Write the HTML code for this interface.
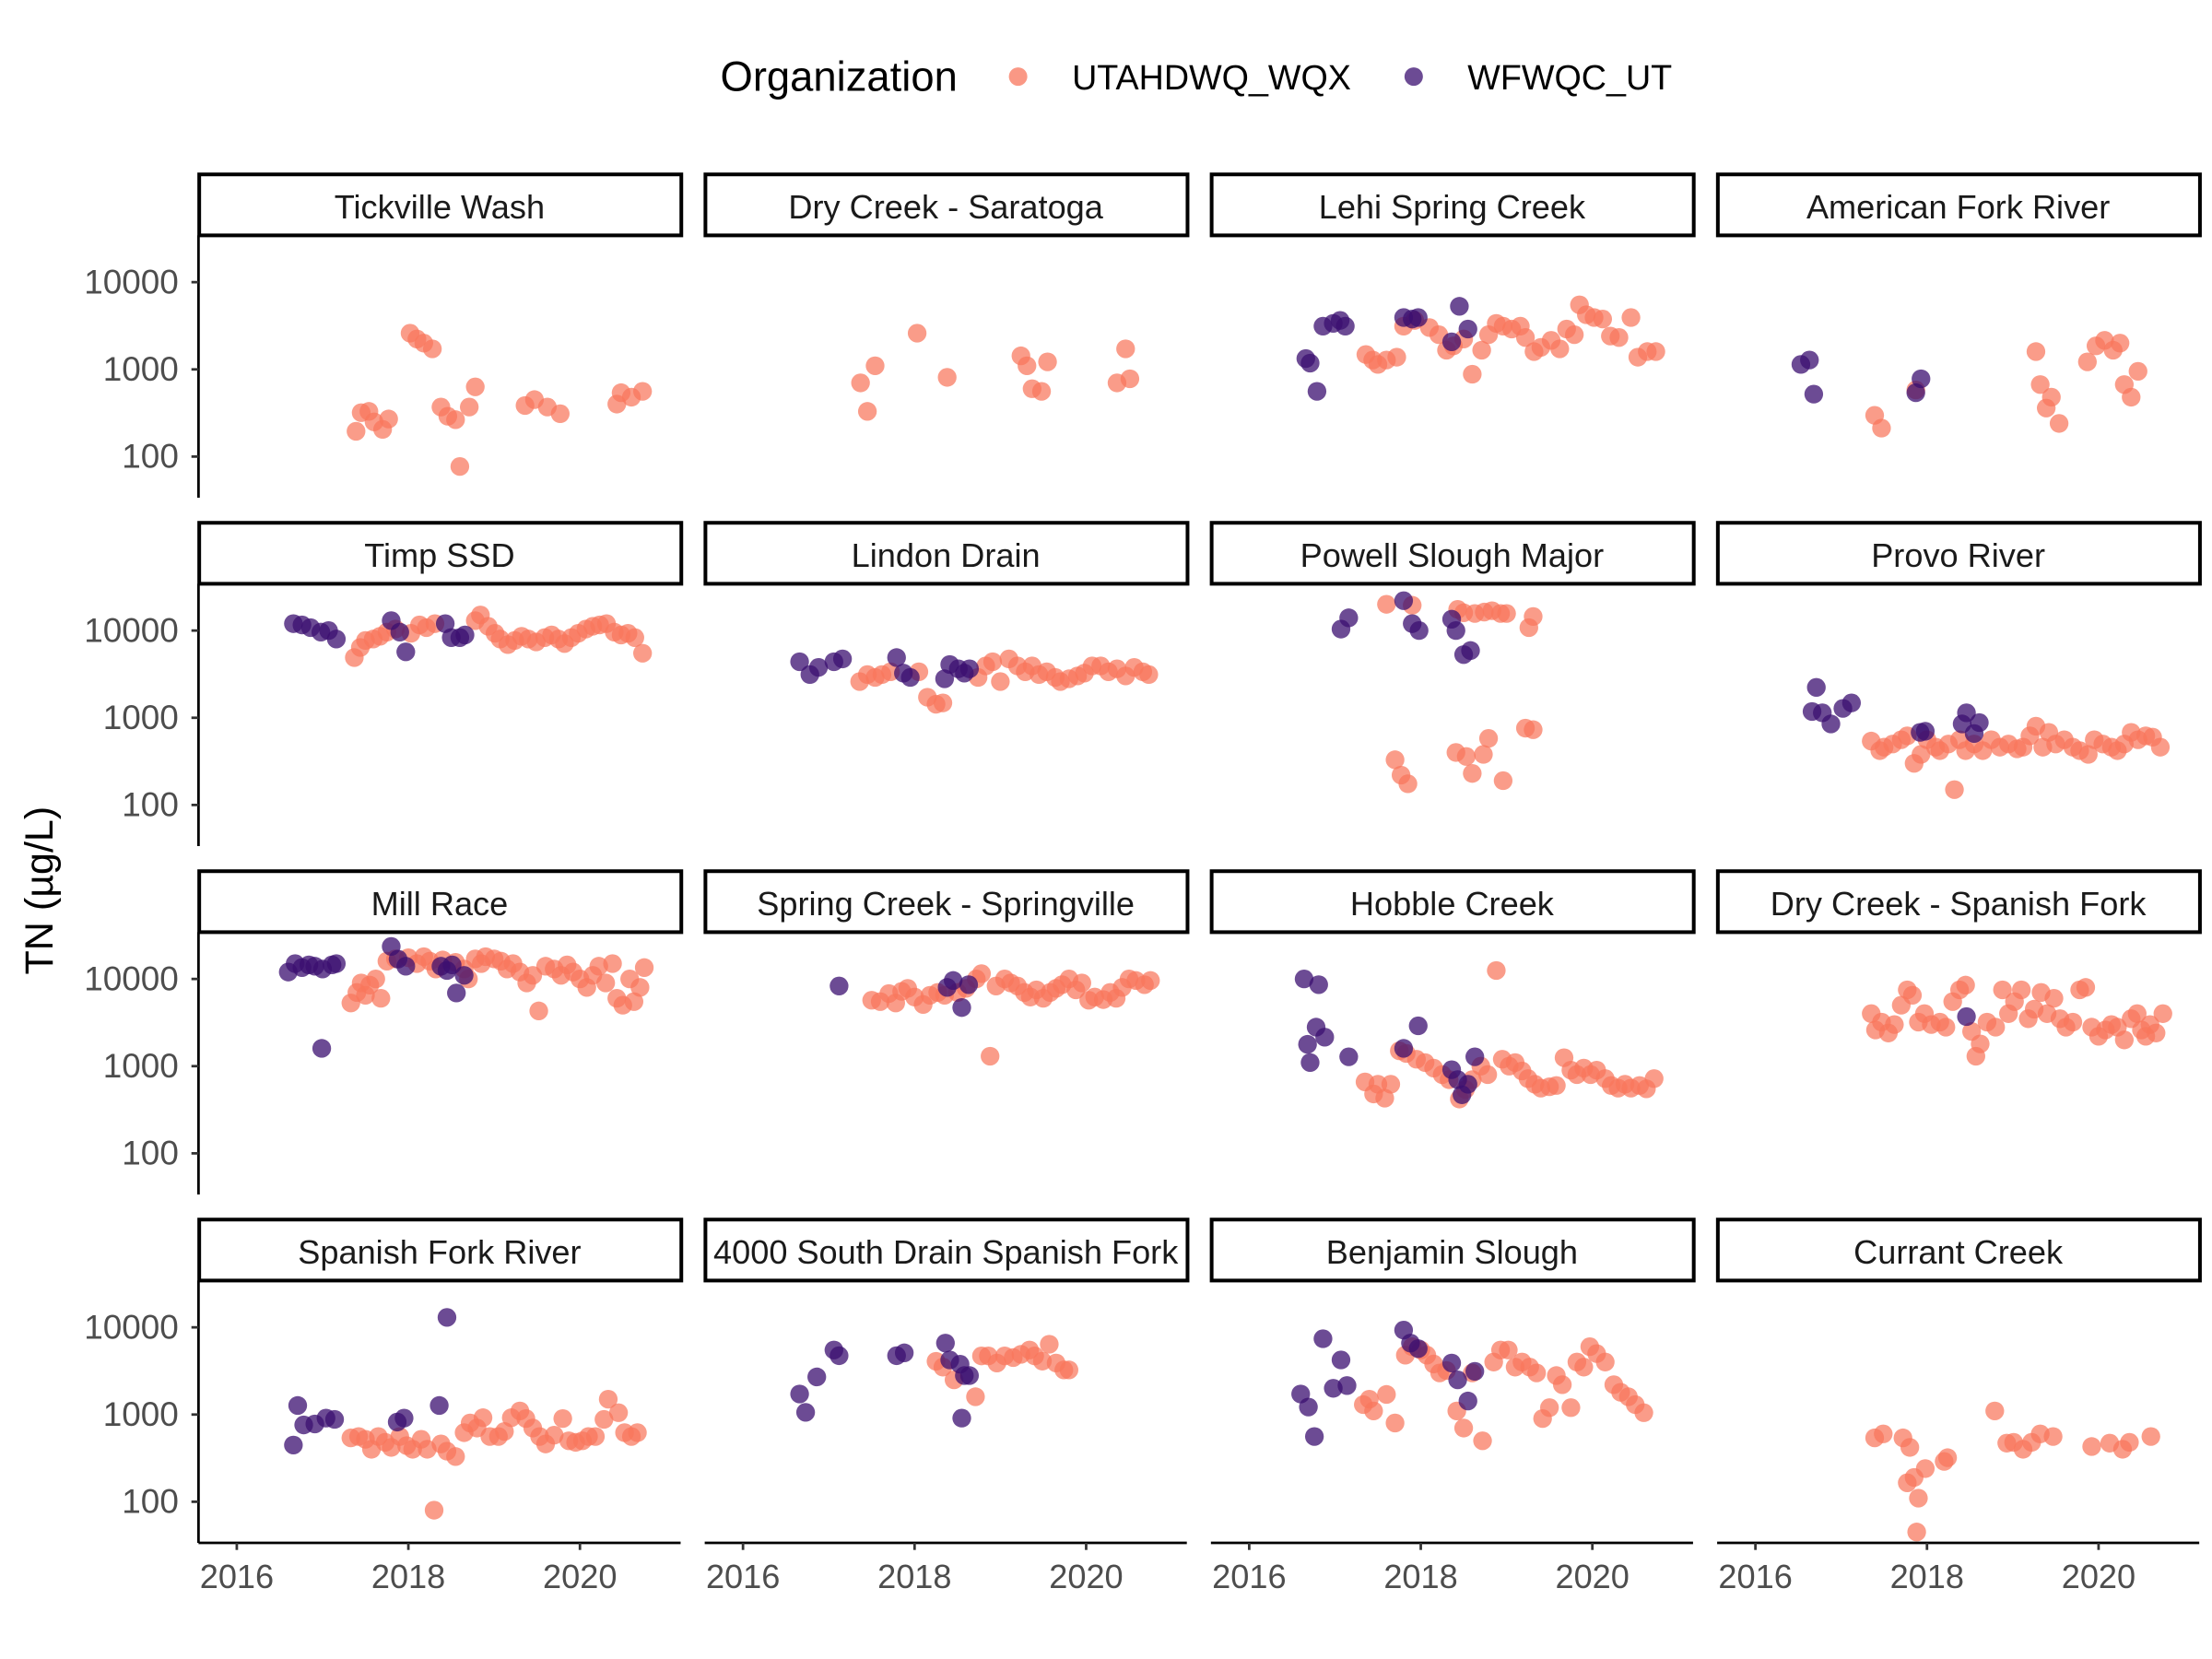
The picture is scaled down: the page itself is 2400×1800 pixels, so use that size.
<!DOCTYPE html>
<html><head><meta charset="utf-8"><style>
html,body{margin:0;padding:0;background:#fff;}
svg{display:block;font-family:"Liberation Sans",Arial,sans-serif;}
</style></head><body>
<svg id="chart" width="2400" height="1800" viewBox="0 0 1560 1170" xmlns="http://www.w3.org/2000/svg">
<g>
<text x="508" y="64" font-size="29.5" fill="#000">Organization</text>
<circle cx="718" cy="54" r="6.5" fill="#F8765C" fill-opacity="0.75"/>
<text x="756" y="63" font-size="24.5" fill="#000">UTAHDWQ_WQX</text>
<circle cx="997" cy="54" r="6.5" fill="#3B0F70" fill-opacity="0.75"/>
<text x="1035" y="63" font-size="24.5" fill="#000">WFWQC_UT</text>
</g>
<text transform="translate(37,628) rotate(-90)" text-anchor="middle" font-size="28" fill="#000">TN (µg/L)</text>
<g id="panels"></g>
</svg>
<script>
const panelNames = ["Tickville Wash","Dry Creek - Saratoga","Lehi Spring Creek","American Fork River","Timp SSD","Lindon Drain","Powell Slough Major","Provo River","Mill Race","Spring Creek - Springville","Hobble Creek","Dry Creek - Spanish Fork","Spanish Fork River","4000 South Drain Spanish Fork","Benjamin Slough","Currant Creek"];
const xTicks = [2016, 2018, 2020];
const yTicks = [100, 1000, 10000];
const utahYears = [
[2017.39,2017.45,2017.54,2017.6,2017.7,2017.77,2018.02,2018.1,2018.18,2018.28,2018.38,2018.46,2018.55,2018.6,2018.71,2018.78,2019.36,2019.47,2019.62,2019.77,2020.43,2020.48,2020.6,2020.73],
[2017.37,2017.45,2017.54,2018.03,2018.38,2019.24,2019.31,2019.37,2019.48,2019.55,2020.36,2020.46,2020.51],
[2017.36,2017.44,2017.5,2017.6,2017.72,2017.8,2017.93,2018.1,2018.21,2018.3,2018.38,2018.5,2018.6,2018.71,2018.79,2018.88,2018.96,2019.06,2019.16,2019.22,2019.32,2019.4,2019.52,2019.62,2019.7,2019.79,2019.85,2019.93,2020.02,2020.12,2020.21,2020.31,2020.45,2020.53,2020.64,2020.74],
[2017.39,2017.47,2017.87,2019.27,2019.32,2019.39,2019.45,2019.54,2019.87,2019.97,2020.07,2020.17,2020.25,2020.3,2020.38,2020.46],
[2017.37,2017.44,2017.5,2017.59,2017.67,2017.75,2017.85,2018.03,2018.13,2018.21,2018.31,2018.78,2018.84,2018.93,2019.01,2019.07,2019.16,2019.24,2019.32,2019.4,2019.49,2019.59,2019.67,2019.75,2019.82,2019.9,2019.98,2020.07,2020.15,2020.23,2020.31,2020.4,2020.48,2020.56,2020.64,2020.73],
[2017.36,2017.45,2017.54,2017.62,2017.72,2018.05,2018.15,2018.25,2018.33,2018.74,2018.83,2018.91,2019.0,2019.1,2019.2,2019.29,2019.37,2019.45,2019.54,2019.64,2019.7,2019.8,2019.9,2019.98,2020.07,2020.17,2020.26,2020.36,2020.46,2020.56,2020.66,2020.73],
[2017.6,2017.7,2017.77,2017.85,2017.9,2018.43,2018.5,2018.41,2018.53,2018.6,2018.73,2018.79,2018.63,2018.74,2018.83,2018.93,2019.0,2018.96,2019.26,2019.31,2019.22,2019.31],
[2017.35,2017.45,2017.5,2017.6,2017.7,2017.77,2017.85,2017.93,2018.0,2018.1,2018.15,2018.25,2018.32,2018.38,2018.45,2018.55,2018.65,2018.75,2018.85,2018.95,2019.05,2019.12,2019.2,2019.27,2019.35,2019.42,2019.5,2019.6,2019.7,2019.78,2019.88,2019.95,2020.05,2020.15,2020.22,2020.3,2020.38,2020.46,2020.55,2020.63,2020.72],
[2017.33,2017.4,2017.45,2017.5,2017.55,2017.62,2017.68,2017.75,2017.85,2018.0,2018.1,2018.18,2018.25,2018.32,2018.4,2018.55,2018.65,2018.7,2018.78,2018.85,2018.9,2019.0,2019.08,2019.15,2019.22,2019.3,2019.38,2019.45,2019.52,2019.6,2019.7,2019.78,2019.85,2019.92,2020.0,2020.08,2020.15,2020.22,2020.3,2020.38,2020.43,2020.5,2020.58,2020.63,2020.7,2020.75],
[2017.5,2017.6,2017.7,2017.78,2017.85,2017.92,2018.0,2018.1,2018.18,2018.27,2018.35,2018.5,2018.6,2018.72,2018.78,2018.88,2018.95,2019.05,2019.12,2019.2,2019.28,2019.35,2019.42,2019.5,2019.58,2019.65,2019.72,2019.8,2019.88,2019.95,2020.03,2020.1,2020.2,2020.28,2020.35,2020.42,2020.5,2020.58,2020.68,2020.75],
[2018.88,2017.35,2017.45,2017.5,2017.58,2017.65,2017.75,2017.83,2017.95,2018.05,2018.15,2018.25,2018.33,2018.45,2018.52,2018.6,2018.7,2018.78,2018.95,2019.03,2019.1,2019.18,2019.25,2019.33,2019.4,2019.5,2019.58,2019.67,2019.75,2019.82,2019.9,2019.98,2020.05,2020.15,2020.22,2020.3,2020.38,2020.45,2020.55,2020.63,2020.72],
[2017.35,2017.4,2017.47,2017.55,2017.62,2017.7,2017.77,2017.83,2017.9,2017.97,2018.05,2018.15,2018.22,2018.3,2018.38,2018.45,2018.52,2018.57,2018.62,2018.7,2018.8,2018.88,2018.95,2019.02,2019.1,2019.18,2019.25,2019.33,2019.4,2019.48,2019.55,2019.62,2019.7,2019.78,2019.85,2019.92,2020.0,2020.08,2020.15,2020.22,2020.3,2020.38,2020.45,2020.5,2020.55,2020.6,2020.67,2020.75],
[2018.3,2017.33,2017.42,2017.5,2017.57,2017.65,2017.73,2017.8,2017.9,2017.98,2018.05,2018.15,2018.22,2018.38,2018.45,2018.55,2018.65,2018.72,2018.8,2018.87,2018.95,2019.05,2019.12,2019.2,2019.3,2019.37,2019.45,2019.53,2019.6,2019.7,2019.8,2019.87,2019.95,2020.03,2020.1,2020.18,2020.28,2020.33,2020.45,2020.52,2020.6,2020.67],
[2018.25,2018.33,2018.46,2018.71,2018.78,2018.86,2018.96,2019.05,2019.15,2019.24,2019.34,2019.4,2019.49,2019.57,2019.65,2019.74,2019.8],
[2017.33,2017.4,2017.45,2017.6,2017.7,2017.82,2017.9,2018.0,2018.07,2018.15,2018.22,2018.3,2018.42,2018.5,2018.6,2018.72,2018.85,2018.93,2019.02,2019.1,2019.18,2019.27,2019.35,2019.42,2019.5,2019.58,2019.65,2019.75,2019.82,2019.9,2019.97,2020.05,2020.15,2020.25,2020.33,2020.42,2020.5,2020.6],
[2017.39,2017.49,2017.72,2017.8,2017.77,2017.85,2017.9,2017.88,2017.98,2018.2,2018.24,2018.79,2018.93,2019.01,2019.12,2019.22,2019.32,2019.47,2019.92,2020.13,2020.28,2020.36,2020.61]
];
const utahValues = [
[195,319,330,250,205,270,2600,2230,2000,1720,370,290,265,77,370,630,385,450,370,310,400,540,480,560],
[700,330,1100,2600,810,1430,1100,600,560,1220,700,1720,780],
[1480,1280,1140,1280,1380,3130,3640,3020,2500,1660,1860,2230,880,1660,2500,3370,3130,2900,3130,2320,1600,1790,2150,1720,2900,2500,5500,4230,3930,3780,2410,2320,3930,1380,1600,1600],
[297,212,580,1600,670,360,480,240,1220,1860,2150,1660,2000,670,480,950],
[4900,6400,7700,8000,8600,9600,10400,9300,11600,10800,12000,13000,15100,11200,9300,8000,6900,7700,8600,8000,7400,8300,8900,8000,7100,8300,9300,10400,11200,11600,12000,9600,8900,9300,8300,5500],
[2600,3130,2900,3130,3370,3370,1720,1430,1480,2900,3930,4390,2600,4730,3930,3370,3930,3130,3370,2900,2600,2800,3020,3250,3930,3930,3370,3640,3020,3780,3370,3130],
[20000,330,220,175,19500,17500,16000,400,360,230,380,580,15700,16300,16900,15700,15700,190,10800,14500,760,730],
[540,420,460,500,560,620,300,380,560,460,420,500,150,560,420,500,420,560,460,500,440,460,620,800,460,680,500,560,460,420,380,560,500,460,420,500,680,560,620,600,460],
[5300,7000,9000,6500,8500,10000,6000,16000,17000,17500,15000,18000,16000,13000,16500,15500,13000,10000,17000,15000,18000,17000,16000,13000,15000,12000,9000,11000,4300,14000,13000,11000,14500,12000,10000,8000,11000,14000,9000,15000,6000,5000,10000,5500,8000,13500],
[5700,5500,6800,5300,7200,7800,6200,5100,6500,7000,6500,7000,7800,10000,11500,1300,8300,10000,9000,8300,7000,6200,7500,6000,7000,7800,8600,10000,7500,9000,5700,6200,5800,7000,6000,8000,10000,9600,8600,9600],
[12500,660,480,620,430,620,1500,1400,1200,1100,950,800,700,420,540,700,1000,800,1200,1000,1100,880,720,620,560,580,600,1250,900,800,950,800,900,720,600,560,620,560,600,550,720],
[4000,2600,3200,2400,3000,5000,7500,6500,3200,4000,3000,3200,2800,5500,7500,8500,2500,1300,1800,3200,2800,7500,4000,5500,7500,3500,4500,7000,4000,6000,3500,2800,3200,7500,8000,2800,2200,2600,3000,2800,2000,3500,4000,2600,2200,3000,2400,4000],
[80,540,560,520,400,560,480,420,560,440,400,520,400,460,380,330,620,800,700,920,560,560,640,920,1100,900,700,560,460,580,900,500,480,500,560,560,880,1500,1050,620,560,620],
[4080,3500,2500,1600,4700,4700,3900,4700,4500,4900,5500,4700,4100,6400,3900,3250,3250],
[1300,1500,1100,1700,800,4800,6000,5500,4800,3800,3000,3200,1100,700,3000,500,4000,5500,5500,3500,4000,3500,3000,900,1200,2800,2200,1200,4000,3500,6000,5000,4000,2200,1800,1600,1300,1050],
[540,600,540,420,165,190,110,45,240,290,320,1100,470,480,400,480,600,560,430,470,400,480,560]
];
const wfYears = [
[],
[],
[2016.66,2016.71,2016.79,2016.86,2016.98,2017.06,2017.12,2017.8,2017.9,2017.97,2018.36,2018.45,2018.55],
[2016.53,2016.63,2016.68,2017.87,2017.93],
[2016.66,2016.76,2016.86,2016.98,2017.07,2017.16,2017.8,2017.9,2017.97,2018.43,2018.5,2018.6,2018.66],
[2016.66,2016.78,2016.88,2017.06,2017.16,2017.79,2017.87,2017.95,2018.35,2018.41,2018.51,2018.58,2018.64],
[2017.07,2017.16,2017.8,2017.9,2017.98,2018.36,2018.41,2018.5,2018.58],
[2016.71,2016.66,2016.78,2016.88,2017.02,2017.12,2017.92,2017.98,2018.41,2018.46,2018.55,2018.61],
[2016.6,2016.68,2016.76,2016.84,2016.91,2017.0,2016.99,2017.11,2017.16,2017.8,2017.88,2017.97,2018.38,2018.45,2018.51,2018.56,2018.65],
[2017.12,2018.38,2018.45,2018.55,2018.63],
[2016.64,2016.81,2016.68,2016.78,2016.88,2016.71,2017.16,2017.8,2017.97,2018.36,2018.43,2018.48,2018.55,2018.63],
[2018.46],
[2016.66,2016.71,2016.78,2016.91,2017.04,2017.14,2017.87,2017.95,2018.36,2018.45],
[2016.66,2016.73,2016.86,2017.06,2017.12,2017.79,2017.88,2018.36,2018.41,2018.53,2018.58,2018.64,2018.55],
[2016.6,2016.69,2016.76,2016.86,2016.98,2017.07,2017.14,2017.8,2017.88,2017.97,2018.36,2018.43,2018.55,2018.63],
[]
];
const wfValues = [
[],
[],
[1330,1180,560,3130,3370,3640,3130,3930,3780,3930,2070,5290,2900],
[1140,1280,520,540,780],
[12000,11600,10800,9600,10000,8000,13000,9600,5700,12000,8300,8300,8900],
[4390,3130,3780,4390,4730,4900,3250,2900,2800,4080,3640,3250,3640],
[10400,14000,22000,12000,10000,13500,10000,5300,5900],
[2230,1180,1140,850,1280,1480,680,700,850,1140,660,880],
[12000,15000,13500,14500,14000,13000,1600,14500,15000,23600,16900,14000,14000,12500,14500,6900,11000],
[8300,8000,9600,4700,8600],
[10000,8600,1780,2800,2150,1100,1280,1600,2900,910,700,470,620,1280],
[3700],
[447,1270,760,780,910,880,820,910,1270,13000],
[1720,1060,2700,5500,4730,4730,5100,6600,4230,3780,2800,2800,910],
[1720,1220,560,7400,2000,4230,2150,9300,6600,5700,3900,2500,1430,3130],
[]
];

const NS = "http://www.w3.org/2000/svg";
const root = document.getElementById("panels");
const PW = 340, COLSTEP = 357, ROWSTEP = 245.7;
function mk(tag, attrs, parent) {
  const e = document.createElementNS(NS, tag);
  for (const k in attrs) e.setAttribute(k, attrs[k]);
  parent.appendChild(e);
  return e;
}
function xScale(c, yr) { return 140 + c * COLSTEP + 27 + (yr - 2016) * 60.5; }
function yScale(r, v) { return 199 + r * ROWSTEP + (4 - Math.log10(v)) * 61.5; }

panelNames.forEach((name, i) => {
  const r = Math.floor(i / 4), c = i % 4;
  const left = 140 + c * COLSTEP;
  const stripTop = 123 + r * ROWSTEP;
  const panelTop = stripTop + 43;
  const panelBottom = panelTop + 185;
  const g = mk("g", {}, root);
  
  
  const strip = mk("rect", {x: left + 0.5, y: stripTop, width: PW, height: 43, fill: "#fff", stroke: "#000", "stroke-width": 2.6}, g);
  
  
  const st = mk("text", {x: left + PW / 2, y: stripTop + 31, "text-anchor": "middle", "font-size": 23.5, fill: "#1a1a1a"}, g);
  
  
  st.textContent = name;

  if (c === 0) {
    const ax = mk("line", {x1: left, x2: left, y1: panelTop, y2: panelBottom, stroke: "#000", "stroke-width": 1.8}, g);
    
    
    yTicks.forEach(t => {
      const y = yScale(r, t);
      const tk = mk("line", {x1: left - 5, x2: left, y1: y, y2: y, stroke: "#333", "stroke-width": 1.8}, g);
      
      
      const tl = mk("text", {x: left - 14, y: y + 8, "text-anchor": "end", "font-size": 24, fill: "#4d4d4d"}, g);
      
      
      tl.textContent = t;
    });
  }
  if (r === 3) {
    const ax = mk("line", {x1: left, x2: left + PW, y1: panelBottom, y2: panelBottom, stroke: "#000", "stroke-width": 1.8}, g);
    
    
    xTicks.forEach(t => {
      const x = xScale(c, t);
      const tk = mk("line", {x1: x, x2: x, y1: panelBottom, y2: panelBottom + 5, stroke: "#333", "stroke-width": 1.8}, g);
      
      
      const tl = mk("text", {x: x, y: panelBottom + 32, "text-anchor": "middle", "font-size": 23.5, fill: "#4d4d4d"}, g);
      
      
      tl.textContent = t;
    });
  }
  utahYears[i].forEach((yr, j) => {
    const p = mk("circle", {cx: xScale(c, yr), cy: yScale(r, utahValues[i][j]), r: 6.6, fill: "#F8765C", "fill-opacity": 0.72}, g);
    
    
  });
  wfYears[i].forEach((yr, j) => {
    const p = mk("circle", {cx: xScale(c, yr), cy: yScale(r, wfValues[i][j]), r: 6.6, fill: "#3B0F70", "fill-opacity": 0.75}, g);
    
    
  });
});
</script>
</body></html>
